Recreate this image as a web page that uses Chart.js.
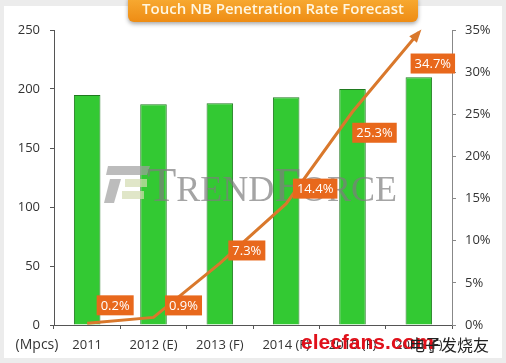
<!DOCTYPE html>
<html>
<head>
<meta charset="utf-8">
<script src="https://cdn.jsdelivr.net/npm/chart.js@4"></script>
<style>
  html, body { margin: 0; padding: 0; background: #ececec; }
  #wrap { width: 506px; height: 363px; }
</style>
</head>
<body>
<div id="wrap"><canvas id="myChart" width="506" height="363"></canvas></div>
<script>
// datos
const years = ["2011", "2012 (E)", "2013 (F)", "2014 (F)", "2015 (F)", "2016 (F)"];
const shipments = [195, 187, 188, 193, 200, 210]; // Mpcs
const penetration = [0.2, 0.9, 7.3, 14.4, 25.3, 34.7]; // %
const leftTicks = [0, 50, 100, 150, 200, 250];
const rightTicks = [0, 5, 10, 15, 20, 25, 30, 35];

const tickFont = { family: "'Open Sans', sans-serif", size: 13 };

/* fondo, titulo y marcas de agua */
const decoracion = {
  id: "decoracion",
  beforeDraw(chart) {
    const c = chart.ctx;
    c.save();
    c.fillStyle = "#ececec";
    c.fillRect(0, 0, chart.width, chart.height);
    c.fillStyle = "#ffffff";
    c.fillRect(4, 6, chart.width - 8, chart.height - 11);
    c.restore();
  },
  beforeDatasetDraw(chart, args) {
    if (args.index !== 1) return; // despues de las barras, antes de la linea
    const c = chart.ctx;
    c.save();
    c.globalAlpha = 0.7;
    c.fillStyle = "#a0a0a0";
    c.beginPath();
    c.moveTo(108, 166); c.lineTo(150, 166); c.lineTo(147, 175); c.lineTo(106, 175); c.closePath();
    c.fill();
    c.beginPath();
    c.moveTo(110, 179); c.lineTo(121, 179); c.lineTo(114, 203); c.lineTo(104, 203); c.closePath();
    c.fill();
    c.fillStyle = "#d3dcb0";
    c.fillRect(125, 179, 22, 8);
    c.fillRect(122, 191, 22, 8);
    c.fillStyle = "#7d7d7d";
    c.textBaseline = "alphabetic";
    c.textAlign = "left";
    let x = 147;
    const parts = [["T", 48], ["REND", 36], ["F", 48], ["ORCE", 36]];
    parts.forEach(([t, s]) => {
      c.font = s + "px 'Liberation Serif', serif";
      c.fillText(t, x, 201);
      x += c.measureText(t).width;
    });
    c.restore();
  },
  afterDraw(chart) {
    const c = chart.ctx;
    c.save();
    // caja del titulo
    c.shadowColor = "rgba(0,0,0,0.35)";
    c.shadowBlur = 4;
    c.shadowOffsetY = 2;
    const g = c.createLinearGradient(0, 0, 0, 22);
    g.addColorStop(0, "#f7a830");
    g.addColorStop(1, "#ee8c14");
    c.fillStyle = g;
    c.beginPath();
    c.roundRect(128, -6, 290, 28, 6);
    c.fill();
    c.shadowColor = "transparent";
    c.fillStyle = "#fff6e0";
    c.font = "600 15px 'Open Sans', sans-serif";
    c.textAlign = "center";
    c.textBaseline = "middle";
    c.fillText("Touch NB Penetration Rate Forecast", 273, 10);

    // unidad
    c.fillStyle = "#333";
    c.font = "14px 'Open Sans', sans-serif";
    c.fillText("(Mpcs)", 37, 345);

    // marca elecfans
    c.fillStyle = "#e0101a";
    c.font = "bold 21px 'Liberation Sans', sans-serif";
    c.textAlign = "left";
    c.fillText("elecfans.com", 301, 343);
    c.fillStyle = "#222";
    c.font = "16px 'Noto Sans CJK SC', sans-serif";
    c.fillText("电子发烧友", 409, 345);
    c.restore();
  }
};

/* flecha y etiquetas de la linea */
const etiquetas = {
  id: "etiquetas",
  afterDatasetsDraw(chart, args, opts) {
    const meta = chart.getDatasetMeta(1);
    const c = chart.ctx;
    const pts = meta.data;
    c.save();
    // punta de flecha
    const a = pts[pts.length - 2], b = pts[pts.length - 1];
    const ang = Math.atan2(b.y - a.y, b.x - a.x);
    c.fillStyle = "#d9782c";
    c.beginPath();
    c.moveTo(b.x + 4 * Math.cos(ang), b.y + 4 * Math.sin(ang));
    c.lineTo(b.x - 9 * Math.cos(ang) + 5 * Math.sin(ang), b.y - 9 * Math.sin(ang) - 5 * Math.cos(ang));
    c.lineTo(b.x - 9 * Math.cos(ang) - 5 * Math.sin(ang), b.y - 9 * Math.sin(ang) + 5 * Math.cos(ang));
    c.closePath();
    c.fill();

    c.font = "13px 'Open Sans', sans-serif";
    c.textAlign = "center";
    c.textBaseline = "middle";
    pts.forEach((p, i) => {
      const [dx, dy] = opts.offsets[i];
      const txt = penetration[i].toFixed(1) + "%";
      const w = c.measureText(txt).width + 8;
      const cx = p.x + dx, cy = p.y + dy;
      c.fillStyle = "#e8681c";
      c.fillRect(cx - w / 2, cy - 10, w, 20);
      c.fillStyle = "#ffffff";
      c.fillText(txt, cx, cy + 1);
    });
    c.restore();
  }
};

const ctx = document.getElementById("myChart");

new Chart(ctx, {
  data: {
    labels: years,
    datasets: [
      {
        type: "bar",
        data: shipments,
        yAxisID: "y",
        backgroundColor: "#33c933",
        borderColor: "#1f7a1f",
        borderWidth: 1,
        barPercentage: 0.8,
        categoryPercentage: 0.5,
        order: 2
      },
      {
        type: "line",
        data: penetration,
        yAxisID: "y1",
        borderColor: "#d9782c",
        borderWidth: 3,
        pointRadius: 0,
        tension: 0,
        order: 1
      }
    ]
  },
  options: {
    responsive: false,
    animation: false,
    layout: { padding: { left: 8, right: 8, top: 30, bottom: 0 } },
    plugins: {
      legend: { display: false },
      tooltip: { enabled: false },
      etiquetas: { offsets: [[28, -18], [30, -12], [27, -13], [29, -15], [22, 21], [14, 31]] }
    },
    scales: {
      x: {
        grid: { display: true, drawOnChartArea: false, tickLength: 4, color: "#555", offset: true },
        border: { color: "#555" },
        ticks: { font: tickFont, color: "#333", padding: 8 },
        afterFit: (s) => { s.height = 38; }
      },
      y: {
        position: "left",
        min: 0, max: 250,
        afterBuildTicks: (s) => { s.ticks = leftTicks.map(v => ({ value: v })); },
        grid: { drawOnChartArea: false, tickLength: 4, color: "#555" },
        border: { color: "#555" },
        ticks: { font: tickFont, color: "#333", padding: 10 },
        afterFit: (s) => { s.width = 46; }
      },
      y1: {
        position: "right",
        min: 0, max: 35,
        afterBuildTicks: (s) => { s.ticks = rightTicks.map(v => ({ value: v })); },
        grid: { drawOnChartArea: false, tickLength: 4, color: "#888" },
        border: { color: "#888" },
        ticks: { font: tickFont, color: "#333", padding: 9, callback: (v) => v + "%" },
        afterFit: (s) => { s.width = 46; }
      }
    }
  },
  plugins: [decoracion, etiquetas]
});
</script>
</body>
</html>
